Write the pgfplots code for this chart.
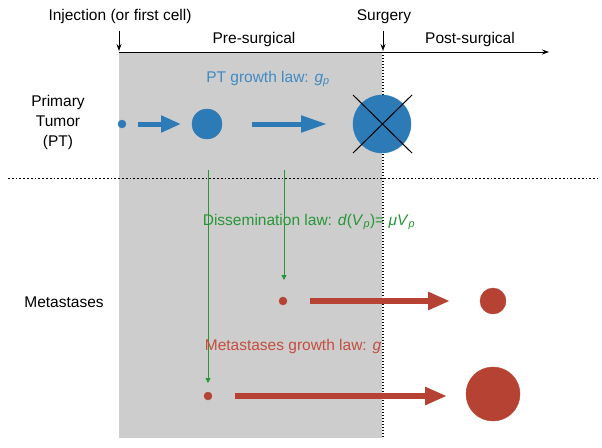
\documentclass[border=0pt]{standalone}
\usepackage{pgfplots}
\pgfplotsset{compat=1.18}
\usetikzlibrary{arrows.meta}
\usepackage{fontspec}
\setmainfont{Liberation Sans}
\definecolor{ptblue}{RGB}{44,122,182}
\definecolor{ptbluetxt}{RGB}{64,138,196}
\definecolor{metred}{RGB}{181,66,50}
\definecolor{mettxt}{RGB}{196,78,64}
\definecolor{dgreen}{RGB}{40,150,55}
\definecolor{bggray}{RGB}{205,205,205}
\tikzset{lbl/.style={font=\fontsize{15.5}{20}\selectfont, inner sep=0pt, anchor=base}}
\begin{document}
\begin{tikzpicture}
\begin{axis}[
  width=602pt, height=447pt, scale only axis,
  xmin=0, xmax=602, ymin=0, ymax=447, y dir=reverse,
  hide axis, clip=false, clip marker paths=true,
]
% frame the whole canvas (invisible)
\addplot[draw=none] coordinates {(0,0) (602,447)};
% grey pre-surgical band
\addplot[fill=bggray, draw=none] coordinates {(119,52) (382,52) (382,438) (119,438)} -- cycle;
% timeline
\addplot[black, line width=0.9pt, -{Stealth[length=7pt,width=5pt]}] coordinates {(119,52) (549,52)};
\addplot[black, line width=0.9pt, -{Stealth[length=7pt,width=5pt]}] coordinates {(119,31) (119,51)};
\addplot[black, line width=0.9pt, -{Stealth[length=7pt,width=5pt]}] coordinates {(383,31) (383,51)};
% separators
\addplot[black, line width=1.1pt, dash pattern=on 1.3pt off 1.7pt] coordinates {(383,52) (383,438)};
\addplot[black, line width=0.9pt, dash pattern=on 1.8pt off 2pt] coordinates {(8,178) (598,178)};
% primary tumor
\addplot[only marks, mark=*, mark size=4pt, ptblue, mark options={draw=none}] coordinates {(122,124)};
\addplot[only marks, mark=*, mark size=15pt, ptblue, mark options={draw=none}] coordinates {(207,124)};
\addplot[only marks, mark=*, mark size=29pt, ptblue, mark options={draw=none}] coordinates {(382,124)};
\addplot[ptblue, line width=5pt, -{Triangle[length=20pt,width=16pt]}] coordinates {(138,124) (181,124)};
\addplot[ptblue, line width=5pt, -{Triangle[length=26pt,width=16pt]}] coordinates {(252,124) (327,124)};
\addplot[black, line width=1pt] coordinates {(353,95) (412,153)};
\addplot[black, line width=1pt] coordinates {(353,153) (412,95)};
% dissemination
\addplot[dgreen, line width=0.9pt, -{Triangle[length=5pt,width=5pt]}] coordinates {(208,170) (208,383)};
\addplot[dgreen, line width=0.9pt, -{Triangle[length=5pt,width=5pt]}] coordinates {(284,170) (284,280)};
% metastases
\addplot[only marks, mark=*, mark size=4pt, metred, mark options={draw=none}] coordinates {(283,301)};
\addplot[only marks, mark=*, mark size=13pt, metred, mark options={draw=none}] coordinates {(493,301)};
\addplot[metred, line width=6pt, -{Triangle[length=22pt,width=17pt]}] coordinates {(310,301) (450,301)};
\addplot[only marks, mark=*, mark size=4pt, metred, mark options={draw=none}] coordinates {(208,396)};
\addplot[only marks, mark=*, mark size=27pt, metred, mark options={draw=none}] coordinates {(493,394)};
\addplot[metred, line width=6pt, -{Triangle[length=22pt,width=17pt]}] coordinates {(235,396) (447,396)};
% texts
\node[lbl] at (axis cs:120,20) {Injection (or first cell)};
\node[lbl] at (axis cs:384,20) {Surgery};
\node[lbl] at (axis cs:254,43) {Pre-surgical};
\node[lbl] at (axis cs:470,43) {Post-surgical};
\node[lbl, text=ptbluetxt] at (axis cs:268,82) {PT growth law: \textit{g}\textsubscript{\textit{p}}};
\node[lbl] at (axis cs:58,106) {Primary};
\node[lbl] at (axis cs:58,126) {Tumor};
\node[lbl] at (axis cs:58,146) {(PT)};
\node[lbl, text=dgreen] at (axis cs:309,225) {Dissemination law: \textit{d}(\textit{V}\textsubscript{\textit{p}})= \textit{μV}\textsubscript{\textit{p}}};
\node[lbl] at (axis cs:64,307) {Metastases};
\node[lbl, text=mettxt] at (axis cs:293,350) {Metastases growth law: \textit{g}};
\end{axis}
\end{tikzpicture}
\end{document}
